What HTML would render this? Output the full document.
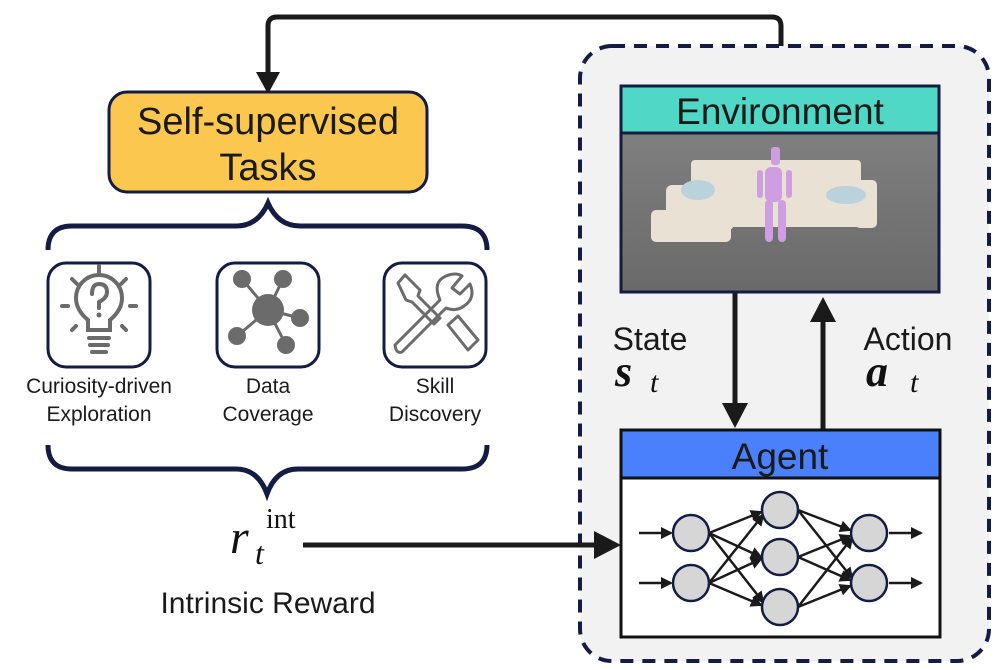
<!DOCTYPE html>
<html><head><meta charset="utf-8"><style>
html,body{margin:0;padding:0;background:#fff;}
svg{display:block}
.sans{font-family:"Liberation Sans",Arial,sans-serif;fill:#1a1a1a}
.serif{font-family:"Liberation Serif","DejaVu Serif",serif;fill:#111}
</style></head><body>
<svg width="996" height="670" viewBox="0 0 996 670" xmlns="http://www.w3.org/2000/svg">
<defs>
<marker id="ah" markerWidth="12" markerHeight="12" refX="10" refY="6" orient="auto" markerUnits="userSpaceOnUse" viewBox="0 0 12 12"><path d="M0,0 L12,6 L0,12 z" fill="#1a1a1a"/></marker>
<linearGradient id="floor" x1="0" y1="0" x2="0" y2="1"><stop offset="0" stop-color="#858585"/><stop offset="1" stop-color="#6a6a6a"/></linearGradient>
</defs>
<rect x="580" y="46" width="409" height="615" rx="32" fill="#f2f2f2" stroke="#141c44" stroke-width="4" stroke-dasharray="13,9"/>
<path d="M781,46 L781,26 Q781,17 772,17 L277,17 Q268,17 268,26 L268,75" fill="none" stroke="#1a1a1a" stroke-width="5"/>
<path d="M256,72 L280,72 L268,94 z" fill="#1a1a1a"/>
<rect x="109" y="92" width="318" height="100" rx="18" fill="#fcc74f" stroke="#141c44" stroke-width="3"/>
<text class="sans" x="268" y="134" font-size="38" text-anchor="middle">Self-supervised</text>
<text class="sans" x="268" y="180" font-size="38" text-anchor="middle">Tasks</text>
<path d="M48,250 Q48,226 72,226 L236,226 Q258,226 268,203 Q278,226 300,226 L462,226 Q487,226 487,250" fill="none" stroke="#141c44" stroke-width="5"/>
<path d="M48,445 Q48,469 72,469 L236,469 Q258,469 267,494 Q276,469 298,469 L462,469 Q487,469 487,445" fill="none" stroke="#141c44" stroke-width="5"/>
<rect x="48" y="263" width="102" height="104" rx="18" fill="#fff" stroke="#141c44" stroke-width="3"/>
<rect x="217" y="263" width="102" height="104" rx="18" fill="#fff" stroke="#141c44" stroke-width="3"/>
<rect x="384" y="263" width="102" height="104" rx="18" fill="#fff" stroke="#141c44" stroke-width="3"/>
<g stroke="#6b6b6b" fill="none" stroke-width="4" stroke-linecap="round">
<path d="M88,330 L88,320 Q76,310 76,298 A23,23 0 1 1 122,298 Q122,310 110,320 L110,330 z"/>
<path d="M89,338 L109,338 M90,345 L108,345 M92,352 L106,352"/>
<path d="M99,272 L99,266 M72,279 L77,284 M126,279 L121,284 M62,306 L68,306 M136,306 L130,306 M72,330 L76,326 M126,330 L122,326"/>
<path d="M92,294 Q92,284 99,284 Q107,284 107,292 Q107,298 99,302 L99,308"/>
</g>
<circle cx="99" cy="315" r="2.5" fill="#6b6b6b"/>
<g stroke="#6b6b6b" stroke-width="3"><path d="M268,310 L242,279 M268,310 L283,279 M268,310 L300,318 M268,310 L237,336 M268,310 L286,345"/></g>
<g fill="#6b6b6b"><circle cx="268" cy="310" r="16"/><circle cx="242" cy="279" r="9"/><circle cx="283" cy="279" r="9"/><circle cx="300" cy="318" r="9"/><circle cx="237" cy="336" r="9"/><circle cx="286" cy="345" r="9"/></g>
<g stroke="#6b6b6b" stroke-width="3" fill="none" stroke-linejoin="round">
<path d="M398,283 L405,275 L420,290 L418,296 L440,318 L434,324 L412,302 L406,300 z"/>
<path d="M448,325 L458,316 L478,340 L468,350 z"/>
<path d="M395,345 L440,300 Q432,282 446,276 Q456,272 462,276 L452,288 L460,294 L470,284 Q476,298 464,306 Q456,312 446,308 L402,352 Q396,354 395,345 z"/>
</g>
<text class="sans" x="99" y="393" font-size="21" text-anchor="middle">Curiosity-driven</text>
<text class="sans" x="99" y="421" font-size="21" text-anchor="middle">Exploration</text>
<text class="sans" x="268" y="393" font-size="21" text-anchor="middle">Data</text>
<text class="sans" x="268" y="421" font-size="21" text-anchor="middle">Coverage</text>
<text class="sans" x="435" y="393" font-size="21" text-anchor="middle">Skill</text>
<text class="sans" x="435" y="421" font-size="21" text-anchor="middle">Discovery</text>
<text class="serif" x="230" y="553" font-size="48" font-style="italic">r</text>
<text class="serif" x="266" y="528" font-size="28">int</text>
<text class="serif" x="255" y="564" font-size="32" font-style="italic">t</text>
<text class="sans" x="268" y="613" font-size="30" text-anchor="middle">Intrinsic Reward</text>
<line x1="303" y1="545" x2="600" y2="545" stroke="#1a1a1a" stroke-width="5"/>
<path d="M594,531 L621,545 L594,559 z" fill="#1a1a1a"/>
<rect x="621" y="86" width="318" height="206" fill="url(#floor)" stroke="#141c44" stroke-width="3"/>
<rect x="621" y="86" width="318" height="47" fill="#4fd8c5" stroke="#141c44" stroke-width="3"/>
<text class="sans" x="780" y="124" font-size="37" text-anchor="middle">Environment</text>
<g fill="#e9e1d4">
<rect x="691" y="160" width="170" height="40" rx="4"/>
<rect x="666" y="185" width="68" height="45" rx="6"/>
<rect x="728" y="197" width="146" height="30" rx="5"/>
<rect x="855" y="180" width="22" height="48" rx="5"/>
<rect x="651" y="210" width="80" height="32" rx="5"/>
</g>
<ellipse cx="698" cy="190" rx="17" ry="10" fill="#b9d2dc"/>
<ellipse cx="846" cy="195" rx="20" ry="9" fill="#b9d2dc"/>
<g fill="#cf9ee0"><rect x="771" y="147" width="9" height="18" rx="3"/><rect x="765" y="167" width="17" height="35" rx="6"/><rect x="765" y="200" width="8" height="42" rx="4"/><rect x="778" y="200" width="8" height="42" rx="4"/><rect x="757" y="170" width="6" height="28" rx="3"/><rect x="786" y="170" width="6" height="28" rx="3"/></g>
<text class="sans" x="650" y="350" font-size="32" text-anchor="middle">State</text>
<text class="serif" x="615" y="386" font-size="44" font-style="italic" font-weight="bold">s</text>
<text class="serif" x="650" y="392" font-size="30" font-style="italic">t</text>
<text class="sans" x="908" y="350" font-size="32" text-anchor="middle">Action</text>
<text class="serif" x="866" y="386" font-size="44" font-style="italic" font-weight="bold">a</text>
<text class="serif" x="910" y="392" font-size="30" font-style="italic">t</text>
<line x1="735" y1="293" x2="735" y2="408" stroke="#1a1a1a" stroke-width="5"/>
<path d="M722,403 L748,403 L735,428 z" fill="#1a1a1a"/>
<line x1="823" y1="430" x2="823" y2="318" stroke="#1a1a1a" stroke-width="5"/>
<path d="M810,322 L836,322 L823,297 z" fill="#1a1a1a"/>
<rect x="621" y="430" width="319" height="207" fill="#fff" stroke="#111" stroke-width="3"/>
<rect x="621" y="430" width="319" height="48" fill="#4a80fb" stroke="#111" stroke-width="3"/>
<text class="sans" x="780" y="469" font-size="37" text-anchor="middle">Agent</text>
<g stroke="#1a1a1a" stroke-width="2.5" marker-end="url(#ah)">
<line x1="639" y1="533" x2="671" y2="533"/><line x1="639" y1="583" x2="671" y2="583"/>
<line x1="709" y1="533" x2="761" y2="512"/><line x1="709" y1="533" x2="761" y2="557"/><line x1="709" y1="533" x2="763" y2="602"/>
<line x1="709" y1="583" x2="763" y2="515"/><line x1="709" y1="583" x2="761" y2="559"/><line x1="709" y1="583" x2="761" y2="605"/>
<line x1="798" y1="510" x2="850" y2="530"/><line x1="798" y1="510" x2="852" y2="578"/>
<line x1="798" y1="557" x2="850" y2="536"/><line x1="798" y1="557" x2="850" y2="580"/>
<line x1="798" y1="607" x2="852" y2="538"/><line x1="798" y1="607" x2="850" y2="586"/>
<line x1="889" y1="533" x2="921" y2="533"/><line x1="889" y1="583" x2="921" y2="583"/>
</g>
<g fill="#d6d6d6" stroke="#141c44" stroke-width="2.5">
<circle cx="691" cy="533" r="18"/><circle cx="691" cy="583" r="18"/>
<circle cx="780" cy="510" r="18"/><circle cx="780" cy="557" r="18"/><circle cx="780" cy="607" r="18"/>
<circle cx="869" cy="533" r="18"/><circle cx="869" cy="583" r="18"/>
</g>
</svg>
</body></html>
